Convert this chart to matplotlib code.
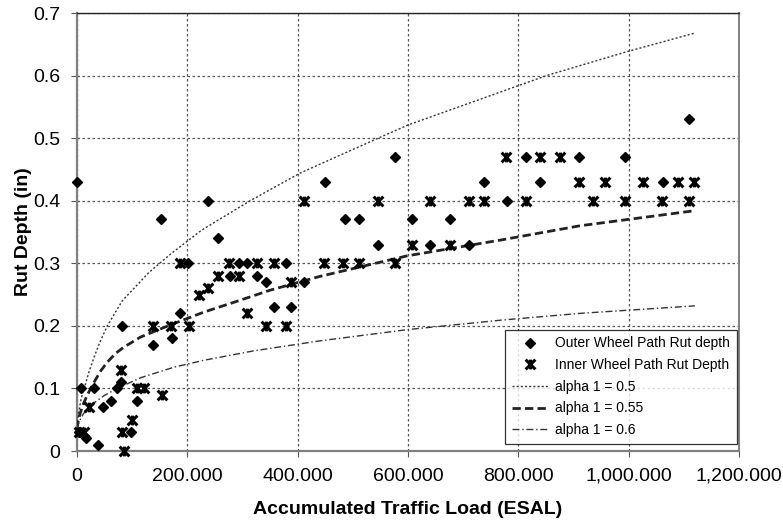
import matplotlib
matplotlib.use("Agg")
import matplotlib.pyplot as plt
from matplotlib.path import Path

plt.rcParams['font.family'] = ['Liberation Sans', 'DejaVu Sans']

# measured rut depth, outer wheel path (ESAL, in)
outer_x = [0, 3000, 7000, 16000, 30000, 38000, 48000, 61000, 72000, 79000,
           82000, 98000, 108000, 138000, 153000, 172000, 187000, 202000,
           238000, 256000, 277000, 294000, 309000, 327000, 343000, 358000,
           379000, 388000, 411000, 449000, 486000, 512000, 545000, 576000,
           608000, 640000, 676000, 711000, 738000, 779000, 814000, 839000,
           910000, 993000, 1062000, 1110000]
outer_y = [0.43, 0.03, 0.10, 0.02, 0.10, 0.01, 0.07, 0.08, 0.10, 0.11,
           0.20, 0.03, 0.08, 0.17, 0.37, 0.18, 0.22, 0.30,
           0.40, 0.34, 0.28, 0.30, 0.30, 0.28, 0.27, 0.23,
           0.30, 0.23, 0.27, 0.43, 0.37, 0.37, 0.33, 0.47,
           0.37, 0.33, 0.37, 0.33, 0.43, 0.40, 0.47, 0.43,
           0.47, 0.47, 0.43, 0.53]

# measured rut depth, inner wheel path
inner_x = [4000, 13000, 22000, 79000, 82000, 86000, 100000, 108000, 121000,
           138000, 155000, 170000, 187000, 203000, 222000, 237000, 255000,
           276000, 294000, 309000, 327000, 343000, 358000, 379000, 388000,
           412000, 447000, 483000, 511000, 545000, 576000, 608000, 640000,
           676000, 711000, 738000, 778000, 814000, 839000, 876000, 910000,
           935000, 958000, 993000, 1026000, 1060000, 1089000, 1110000, 1119000]
inner_y = [0.03, 0.03, 0.07, 0.13, 0.03, 0.0, 0.05, 0.10, 0.10,
           0.20, 0.09, 0.20, 0.30, 0.20, 0.25, 0.26, 0.28,
           0.30, 0.28, 0.22, 0.30, 0.20, 0.30, 0.20, 0.27,
           0.40, 0.30, 0.30, 0.30, 0.40, 0.30, 0.33, 0.40,
           0.33, 0.40, 0.40, 0.47, 0.40, 0.47, 0.47, 0.43,
           0.40, 0.43, 0.40, 0.43, 0.40, 0.43, 0.40, 0.43]

# model curves
a50_x = [0, 3000, 8000, 13000, 22000, 31000, 42000, 55000, 82000, 130000,
         170000, 226000, 314000, 404000, 546000, 600000, 797000, 851000,
         996000, 1120000]
a50_y = [0.04, 0.062, 0.085, 0.10, 0.127, 0.15, 0.175, 0.20, 0.24, 0.285,
         0.315, 0.353, 0.40, 0.444, 0.50, 0.521, 0.583, 0.60, 0.638, 0.668]

a55_x = [0, 3000, 10000, 19000, 31000, 43000, 55000, 70000, 85000, 115000,
         165000, 230000, 289000, 350000, 440000, 599000, 767000, 912000,
         1119000]
a55_y = [0.035, 0.052, 0.072, 0.09, 0.11, 0.128, 0.142, 0.156, 0.166, 0.182,
         0.20, 0.222, 0.239, 0.257, 0.279, 0.312, 0.337, 0.36, 0.384]

a60_x = [0, 4000, 12000, 31000, 50000, 73000, 115000, 176000, 230000, 320000,
         440000, 599000, 767000, 912000, 1120000]
a60_y = [0.035, 0.047, 0.06, 0.077, 0.089, 0.10, 0.117, 0.134, 0.145, 0.16,
         0.176, 0.194, 0.209, 0.22, 0.232]

x_ticks = [0, 200000, 400000, 600000, 800000, 1000000, 1200000]
x_labels = ['0', '200.000', '400.000', '600.000', '800.000', '1,000.000', '1,200.000']
y_ticks = [0, 0.1, 0.2, 0.3, 0.4, 0.5, 0.6, 0.7]
y_labels = ['0', '0.1', '0.2', '0.3', '0.4', '0.5', '0.6', '0.7']

# Excel style star marker: X with a vertical stroke
star = Path([(-1, -1), (1, 1), (-1, 1), (1, -1), (0, -1), (0, 1)],
            [Path.MOVETO, Path.LINETO] * 3)

fig = plt.figure(figsize=(7.83, 5.27), dpi=100)
ax = fig.add_axes([0.0983, 0.1442, 0.8455, 0.8311])

ax.plot(a50_x, a50_y, color='#333333', lw=1.0, linestyle=(0, (1.5, 1.5)),
        label='alpha 1 = 0.5', zorder=3)
ax.plot(a55_x, a55_y, color='#222222', lw=2.0, linestyle=(0, (3, 1.5)),
        label='alpha 1 = 0.55', zorder=3)
ax.plot(a60_x, a60_y, color='#333333', lw=1.0, linestyle=(0, (5, 2, 1, 2)),
        label='alpha 1 = 0.6', zorder=3)

ax.plot(outer_x, outer_y, linestyle='None', marker='D', markersize=5,
        color='black', label='Outer Wheel Path Rut depth', zorder=4,
        clip_on=False)
ax.plot(inner_x, inner_y, linestyle='None', marker=star, markersize=7,
        markeredgewidth=2.2, markerfacecolor='none', color='black',
        label='Inner Wheel Path Rut Depth', zorder=4, clip_on=False)

ax.set_xlim(0, 1200000)
ax.set_ylim(0, 0.7)
ax.set_xticks(x_ticks)
ax.set_xticklabels(x_labels)
ax.set_yticks(y_ticks)
ax.set_yticklabels(y_labels)
ax.tick_params(labelsize=14, length=4, color='#555555', pad=8)

ax.grid(True, color='#555555', lw=0.9, linestyle=(0, (2, 2)), zorder=1)
ax.set_axisbelow(True)

for side in ['left', 'bottom']:
    ax.spines[side].set_color('#808080')
    ax.spines[side].set_linewidth(1.6)
ax.spines['right'].set_color('#808080')
ax.spines['right'].set_linewidth(1.4)
ax.spines['top'].set_color('#222222')
ax.spines['top'].set_linewidth(1.0)

ax.set_xlabel('Accumulated Traffic Load (ESAL)', fontsize=14, fontweight='bold',
              labelpad=12)
ax.set_ylabel('Rut Depth (in)', fontsize=14, fontweight='bold', labelpad=1)

handles, labels = ax.get_legend_handles_labels()
order = [3, 4, 0, 1, 2]
leg = ax.legend([handles[i] for i in order], [labels[i] for i in order],
                loc='lower right', bbox_to_anchor=(0.997, 0.016), fontsize=10,
                frameon=True, fancybox=False, edgecolor='black',
                labelspacing=0.55, handlelength=2.6, handletextpad=0.5,
                borderpad=0.5, borderaxespad=0)
leg.get_frame().set_linewidth(0.9)
leg.set_zorder(5)

fig.savefig('out.png', dpi=100)
